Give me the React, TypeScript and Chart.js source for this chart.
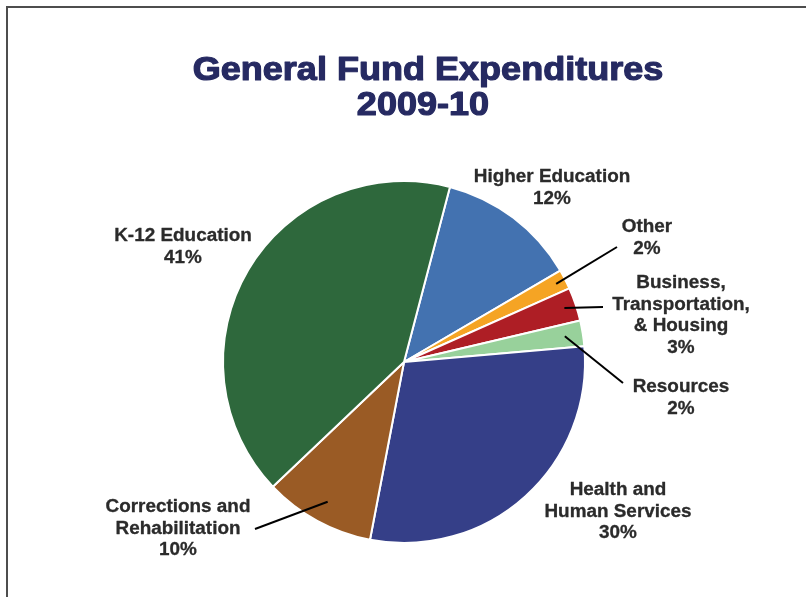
import React, { useEffect, useRef } from "react";
import { Chart, registerables } from "chart.js";

Chart.register(...registerables);

const categories = [
  "Higher Education",
  "Other",
  "Business, Transportation, & Housing",
  "Resources",
  "Health and Human Services",
  "Corrections and Rehabilitation",
  "K-12 Education",
];
const values = [12.5, 1.75, 3.0, 2.3, 29.4, 9.9, 41.2];
const percentLabels = ["12%", "2%", "3%", "2%", "30%", "10%", "41%"];
const labelLines = [
  ["Higher Education"],
  ["Other"],
  ["Business,", "Transportation,", "& Housing"],
  ["Resources"],
  ["Health and", "Human Services"],
  ["Corrections and", "Rehabilitation"],
  ["K-12 Education"],
];
const colors = ["#4372b0", "#f5a424", "#ae1e25", "#98d19b", "#353f88", "#9a5b25", "#2e683c"];
const titleLines = ["General Fund Expenditures", "2009-10"];

// annotation layout, relative to pie centre (px)
const labelPos = [
  [148, -180],
  [243, -130],
  [277, -74],
  [277, 30],
  [214, 133],
  [-226, 150],
  [-221, -121],
];
// leader lines: [index, start radius fraction, end dx, end dy]
const leaders: [number, number, number, number][] = [
  [1, 0.945, 213, -115],
  [2, 0.935, 199, -55],
  [3, 0.9, 219, 21],
  [5, 0.88, -149, 167],
];

function wideText(ctx: CanvasRenderingContext2D, t: string, x: number, y: number, sx: number, stroke: number) {
  ctx.save();
  ctx.translate(x, y);
  ctx.scale(sx, 1);
  ctx.fillText(t, 0, 0);
  if (stroke > 0) {
    ctx.lineWidth = stroke;
    ctx.strokeStyle = ctx.fillStyle as string;
    ctx.lineJoin = "round";
    ctx.strokeText(t, 0, 0);
  }
  ctx.restore();
}

const annotationPlugin = {
  id: "annotations",
  afterDraw(chart: any) {
    const ctx = chart.ctx;
    const meta = chart.getDatasetMeta(0);
    const arc0 = meta.data[0];
    const cx = arc0.x;
    const cy = arc0.y;
    ctx.save();
    // frame
    ctx.strokeStyle = "#4d4d4d";
    ctx.lineWidth = 2;
    ctx.beginPath();
    ctx.moveTo(7, 598);
    ctx.lineTo(7, 7);
    ctx.lineTo(808, 7);
    ctx.stroke();
    // title
    ctx.fillStyle = "#262a62";
    ctx.font = 'bold 34px "Liberation Sans", Arial, sans-serif';
    ctx.textAlign = "center";
    ctx.textBaseline = "alphabetic";
    wideText(ctx, titleLines[0], 428, 80, 1.06, 1.2);
    wideText(ctx, titleLines[1], 423, 115, 1.06, 1.2);
    // leader lines
    ctx.strokeStyle = "#000000";
    ctx.lineWidth = 2;
    leaders.forEach(([i, frac, ex, ey]) => {
      const a = meta.data[i];
      const mid = (a.startAngle + a.endAngle) / 2;
      const r = a.outerRadius * frac;
      ctx.beginPath();
      ctx.moveTo(a.x + Math.cos(mid) * r, a.y + Math.sin(mid) * r);
      ctx.lineTo(cx + ex, cy + ey);
      ctx.stroke();
    });
    // labels
    ctx.fillStyle = "#2b2b2b";
    ctx.font = 'bold 18px "Liberation Sans", Arial, sans-serif';
    labelLines.forEach((lines, i) => {
      const [dx, dy] = labelPos[i];
      const all = [...lines, percentLabels[i]];
      all.forEach((t, j) => {
        wideText(ctx, t, cx + dx, cy + dy + j * 21.5, 1.05, 0.3);
      });
    });
    ctx.restore();
  },
};

export default function App() {
  const ref = useRef<HTMLCanvasElement>(null);
  useEffect(() => {
    if (!ref.current) return;
    const chart = new Chart(ref.current, {
      type: "pie",
      data: {
        labels: categories,
        datasets: [
          {
            data: values,
            backgroundColor: colors,
            borderColor: "#ffffff",
            borderWidth: 2,
          },
        ],
      },
      options: {
        animation: false,
        responsive: false,
        rotation: 14.7,
        layout: { padding: { top: 180, bottom: 53, left: 222, right: 220 } },
        plugins: {
          legend: { display: false },
          tooltip: { enabled: false },
          title: { display: false },
        },
      },
      plugins: [annotationPlugin],
    });
    return () => chart.destroy();
  }, []);
  return (
    <div style={{ position: "fixed", left: 0, top: 0, width: 806, height: 597, background: "#fff" }}>
      <canvas ref={ref} width={806} height={597} style={{ display: "block" }} />
    </div>
  );
}
